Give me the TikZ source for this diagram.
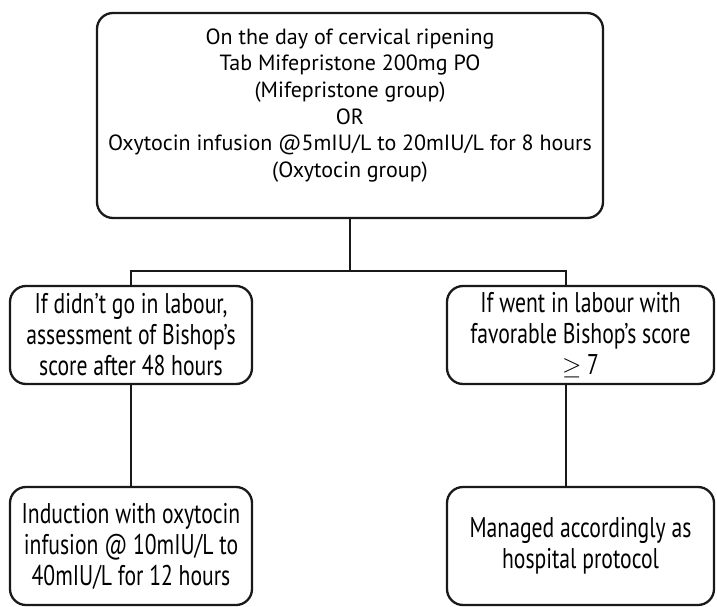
\documentclass[tikz,border=0pt]{standalone}
\usepackage{fontspec}
\setmainfont{PT Sans}
\newfontfamily\condfont[FakeStretch=0.76]{PT Sans}
\begin{document}
\begin{tikzpicture}[x=1pt,y=1pt,
  box/.style={draw=black!90, line width=2.3pt, rounded corners=16pt, inner sep=0pt},
  midbox/.style={box, minimum width=242pt, minimum height=98pt, align=center,
     font=\condfont\fontsize{28.5}{31}\selectfont},
  toptext/.style={align=center, font=\fontsize{22}{26.6}\selectfont, inner sep=0pt},
  conn/.style={draw=black!90, line width=2.3pt}]
\useasboundingbox (0,0) rectangle (717,-607);
\node[box, minimum width=506pt, minimum height=205pt] (top) at (350,-115.5) {};
\node[toptext, anchor=north] (toptxt) at (350,-28.5) {On the day of cervical ripening\\Tab Mifepristone 200mg PO\\(Mifepristone group)\\OR\\Oxytocin infusion @5mIU/L to 20mIU/L for 8 hours\\(Oxytocin group)};
\node[midbox] (lm) at (131,-335) {If didn’t go in labour,\\assessment of Bishop’s\\score after 48 hours};
\node[midbox, minimum width=267pt] (rm) at (580.5,-335) {If went in labour with\\favorable Bishop’s score\\$\geq$ 7};
\node[midbox, minimum height=118pt] (lb) at (131,-546) {Induction with oxytocin\\infusion @ 10mIU/L to\\40mIU/L for 12 hours};
\node[midbox, minimum width=267pt, minimum height=118pt] (rb) at (580.5,-546) {Managed accordingly as\\hospital protocol};
\coordinate (j) at (350,-271);
\coordinate (rl) at (566,-271);
\draw[conn] (top.south -| j) -- (j);
\draw[conn] (lm.north) -- (lm.north |- j) -- (rl) -- (rl |- rm.north);
\draw[conn] (lm.south) -- (lb.north);
\draw[conn] (rl |- rm.south) -- (rl |- rb.north);
\end{tikzpicture}
\end{document}
